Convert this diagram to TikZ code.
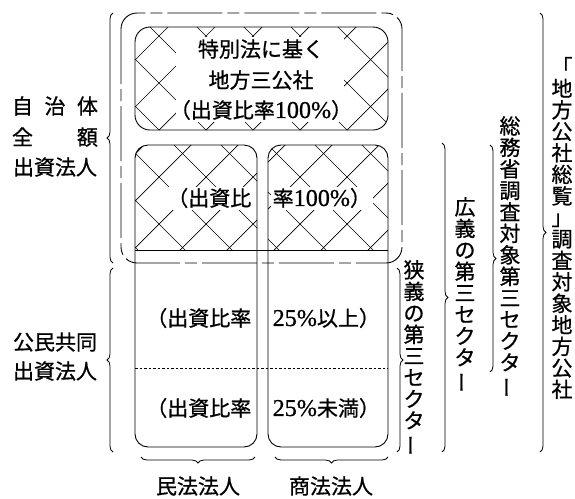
\documentclass[tikz,border=0pt]{standalone}
\usepackage{fontspec}
\newfontfamily\jp[RawFeature={embolden=0.8}]{Noto Sans CJK JP}
\newfontfamily\lat[Scale=1.15,RawFeature={embolden=0.8}]{Liberation Serif}
\usetikzlibrary{decorations.pathreplacing}
\newcommand\lnum[1]{{\lat #1}}
\newcommand\vbar{\rotatebox[origin=c]{90}{ー}}
\begin{document}
\begin{tikzpicture}[x=1pt,y=-1pt,
  txt/.style={font=\jp\fontsize{21}{21.5}\selectfont, inner sep=1.5pt},
  vtxt/.style={txt, align=center, inner sep=0pt},
  box/.style={draw, line width=0.9pt, rounded corners=13pt},
  hatch/.style={line width=0.7pt},
  brc/.style={decorate, decoration={brace, amplitude=6pt}, line width=0.8pt},
  knock/.style={txt, fill=white}]
\useasboundingbox (0,0) rectangle (575,498);

% top hatched box
\begin{scope}
  \clip[rounded corners=15pt] (135,27) rectangle (388,130);
  \foreach \k in {-16,...,16}{
    \draw[hatch] ({383+47*\k},0) -- ++(-500,500);
    \draw[hatch] ({123+47*\k},0) -- ++(500,500);}
\end{scope}
\fill[white] (176,37) rectangle (344,122);
\draw[box, rounded corners=15pt] (135,27) rectangle (388,130);

% column hatching
\begin{scope}
  \clip (0,0) rectangle (575,250);
  \clip[rounded corners=13pt] (135,145) rectangle (257,447);
  \foreach \k in {-16,...,16}{
    \draw[hatch] ({383+47*\k},0) -- ++(-500,500);
    \draw[hatch] ({123+47*\k},0) -- ++(500,500);}
\end{scope}
\begin{scope}
  \clip (0,0) rectangle (575,250);
  \clip[rounded corners=13pt] (268,145) rectangle (388,447);
  \foreach \k in {-16,...,16}{
    \draw[hatch] ({383+47*\k},0) -- ++(-500,500);
    \draw[hatch] ({123+47*\k},0) -- ++(500,500);}
\end{scope}

% columns
\draw[box] (135,145) rectangle (257,447);
\draw[box] (268,145) rectangle (388,447);
\draw[line width=0.9pt] (135,250) -- (388,250);
\draw[dash pattern=on 2.5pt off 2pt, line width=0.6pt] (135,368) -- (388,368);

% outer dashed frame
\draw[line width=0.9pt, rounded corners=16pt, dash pattern=on 55pt off 5pt on 12pt off 5pt] (121,13) rectangle (402,263);

% texts in boxes
\node[txt] (t1) at (261,49) {特別法に基く};
\node[txt] (t2) at (261,80) {地方三公社};
\node[txt] (t3) at (261,110) {（出資比率\lnum{100\%}）};
\node[knock, anchor=east] (a1) at (253,198) {（出資比};
\node[knock, anchor=west] (a2) at (271,198) {率\lnum{100\%}）};
\node[txt, anchor=east] (b1) at (253,318) {（出資比率};
\node[txt, anchor=west] (b2) at (271,318) {\lnum{25\%}以上）};
\node[txt, anchor=east] (c1) at (253,408) {（出資比率};
\node[txt, anchor=west] (c2) at (271,408) {\lnum{25\%}未満）};

% left labels
\node[txt] (l1) at (55,106) {\makebox[86pt][s]{自\hfill 治\hfill 体}};
\node[txt] (l2) at (55,137) {\makebox[86pt][s]{全\hfill 額}};
\node[txt] (l3) at (55,167) {出資法人};
\node[txt] (l4) at (55,342) {公民共同};
\node[txt] (l5) at (55,371) {出資法人};

% bottom labels
\node[txt] (m1) at (198,486) {民法法人};
\node[txt] (m2) at (331,486) {商法法人};

% braces
\draw[brc] (113,263) -- (113,13);
\draw[brc] (113,452) -- (113,268);
\draw[brc] (255,457) -- (141,457);
\draw[brc] (388,457) -- (275,457);
\draw[brc] (397,268) -- (397,452);
\draw[brc] (442,143) -- (442,452);
\draw[brc] (490,145) -- (490,372);
\draw[brc] (540,13) -- (540,452);

% vertical texts
\node[vtxt] (v1) at (414,358) {狭\\義\\の\\第\\三\\セ\\ク\\タ\\\vbar};
\node[vtxt] (v2) at (465,295) {広\\義\\の\\第\\三\\セ\\ク\\タ\\\vbar};
\node[vtxt] (v3) at (510,257) {総\\務\\省\\調\\査\\対\\象\\第\\三\\セ\\ク\\タ\\\vbar};
\node[vtxt] (v4) at (562,228) {「\\地\\方\\公\\社\\総\\覧\\」\\調\\査\\対\\象\\地\\方\\公\\社};
\end{tikzpicture}
\end{document}
